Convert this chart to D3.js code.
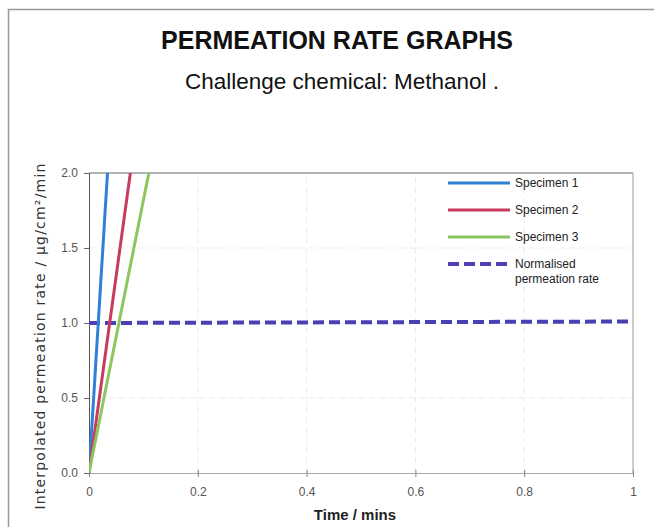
<!DOCTYPE html>
<html lang="en">
<head>
<meta charset="UTF-8">
<title>Permeation rate graphs</title>
<script src="https://cdn.jsdelivr.net/npm/d3@7/dist/d3.min.js"></script>
<style>
    body { margin: 0; background: #fff; }
    svg { display: block; font-family: "Liberation Sans", Arial, sans-serif; }
    .tick text { fill: #555; font-size: 12px; }
    .legend text { font-size: 12px; fill: #222; }
</style>
</head>
<body>
<div id="chart"></div>
<script>
    // data
    const xTicks = [0, 0.2, 0.4, 0.6, 0.8, 1];
    const yTicks = [0.0, 0.5, 1.0, 1.5, 2.0];
    const seriesNames = ["Specimen 1", "Specimen 2", "Specimen 3"];
    const specimen1 = [[0, 0], [0.034, 2.0]];
    const specimen2 = [[0, 0], [0.076, 2.0]];
    const specimen3 = [[0, 0], [0.110, 2.0]];
    const normalised = [[0, 1.0], [1, 1.01]];
    const colors = ["#2f80d6", "#c93b5e", "#8cc65e"];
    const normColor = "#4a3fb3";

    const width = 654, height = 527;
    const margin = { left: 89, right: 21, top: 173, bottom: 54 };

    const svg = d3.select("#chart").append("svg")
        .attr("width", width)
        .attr("height", height);

    // page frame
    svg.append("path")
        .attr("d", "M8.5,527 V9.5 H654")
        .attr("fill", "none")
        .attr("stroke", "#999")
        .attr("stroke-width", 1.5);

    const x = d3.scaleLinear().domain([0, 1]).range([margin.left, width - margin.right]);
    const y = d3.scaleLinear().domain([0, 2]).range([height - margin.bottom, margin.top]);

    // titles
    svg.append("text")
        .attr("x", 337).attr("y", 49)
        .attr("text-anchor", "middle")
        .attr("font-weight", "bold")
        .attr("font-size", 25)
        .attr("fill", "#111")
        .text("PERMEATION RATE GRAPHS");

    svg.append("text")
        .attr("x", 342).attr("y", 89)
        .attr("text-anchor", "middle")
        .attr("font-size", 22.5)
        .attr("fill", "#111")
        .text("Challenge chemical: Methanol .");

    // faint grid
    const grid = svg.append("g").attr("stroke", "#ebebeb").attr("stroke-dasharray", "6,4");
    grid.selectAll(".gx").data(xTicks.slice(1, -1)).enter().append("line")
        .attr("x1", d => x(d)).attr("x2", d => x(d))
        .attr("y1", y(0)).attr("y2", y(2));
    grid.selectAll(".gy").data(yTicks.slice(1, -1)).enter().append("line")
        .attr("x1", x(0)).attr("x2", x(1))
        .attr("y1", d => y(d)).attr("y2", d => y(d));

    // axes
    const xAxis = svg.append("g")
        .attr("transform", `translate(0,${y(0)})`)
        .call(d3.axisBottom(x).tickValues(xTicks).tickFormat(d3.format("")).tickSize(4).tickPadding(10));
    xAxis.select(".domain").attr("stroke", "#aaa");
    xAxis.selectAll(".tick line").attr("stroke", "#888").attr("y1", -3);

    const yAxis = svg.append("g")
        .attr("transform", `translate(${x(0)},0)`)
        .call(d3.axisLeft(y).tickValues(yTicks).tickFormat(d3.format(".1f")).tickSize(5).tickPadding(6));
    yAxis.select(".domain").attr("stroke", "#555");
    yAxis.selectAll(".tick line").attr("stroke", "#666");

    // top and right border
    svg.append("line").attr("x1", x(0)).attr("x2", x(1)).attr("y1", y(2)).attr("y2", y(2))
        .attr("stroke", "#666");
    svg.append("line").attr("x1", x(1)).attr("x2", x(1)).attr("y1", y(2)).attr("y2", y(0))
        .attr("stroke", "#999");

    // axis titles
    svg.append("text")
        .attr("x", 355).attr("y", 520)
        .attr("text-anchor", "middle")
        .attr("font-weight", "bold")
        .attr("font-size", 15)
        .attr("fill", "#222")
        .text("Time / mins");

    svg.append("text")
        .attr("transform", "translate(45,336) rotate(-90)")
        .attr("text-anchor", "middle")
        .attr("font-size", 14)
        .attr("letter-spacing", 1.2)
        .attr("fill", "#333")
        .attr("font-family", "DejaVu Sans, sans-serif")
        .text("Interpolated permeation rate / µg/cm²/min");

    // lines
    svg.append("clipPath").attr("id", "plot")
        .append("rect").attr("x", x(0)).attr("y", y(2))
        .attr("width", x(1) - x(0)).attr("height", y(0) - y(2));

    const line = d3.line().x(d => x(d[0])).y(d => y(d[1]));
    const plot = svg.append("g").attr("clip-path", "url(#plot)");

    plot.append("path").datum(normalised)
        .attr("d", line).attr("fill", "none")
        .attr("stroke", normColor).attr("stroke-width", 4)
        .attr("stroke-dasharray", "11,5");

    [specimen1, specimen2, specimen3].forEach((s, i) => {
        plot.append("path").datum(s)
            .attr("d", line).attr("fill", "none")
            .attr("stroke", colors[i]).attr("stroke-width", 3);
    });

    // legend
    const legend = svg.append("g").attr("class", "legend");
    const legY = [183, 210, 237];
    seriesNames.forEach((n, i) => {
        legend.append("line").attr("x1", 448).attr("x2", 510)
            .attr("y1", legY[i]).attr("y2", legY[i])
            .attr("stroke", colors[i]).attr("stroke-width", 3);
        legend.append("text").attr("x", 515).attr("y", legY[i] + 4).text(n);
    });
    legend.append("line").attr("x1", 448).attr("x2", 510)
        .attr("y1", 264).attr("y2", 264)
        .attr("stroke", normColor).attr("stroke-width", 4)
        .attr("stroke-dasharray", "11,5");
    legend.append("text").attr("x", 515).attr("y", 268).text("Normalised");
    legend.append("text").attr("x", 515).attr("y", 283).text("permeation rate");
</script>
</body>
</html>
